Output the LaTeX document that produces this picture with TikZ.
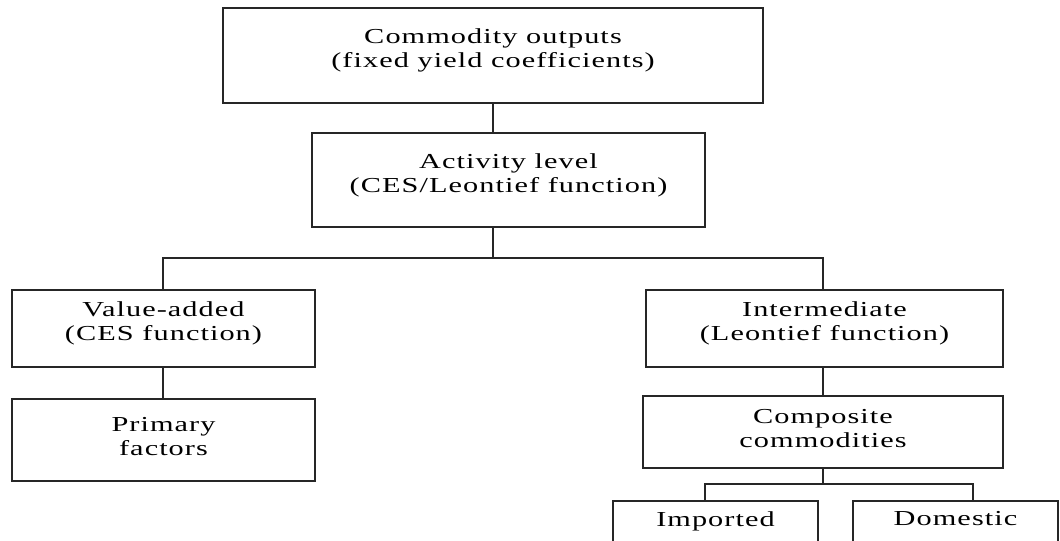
\documentclass[tikz,border=0pt]{standalone}
\usepackage{fontspec}
\setmainfont{Liberation Serif}[FakeStretch=1.42, LetterSpace=5]
\usetikzlibrary{positioning, calc}

\begin{document}
\begin{tikzpicture}[
                x=0.75pt, y=-0.75pt,
                box/.style={rectangle, draw=black!85, line width=1.4pt, fill=white, align=center, inner sep=0pt, text depth=11pt, font=\fontsize{16}{18}\selectfont},
                link/.style={draw=black!85, line width=1.2pt}
            ]%
            \useasboundingbox (0,0) rectangle (1060,540);
            %
            % Nivel superior
            \node[box, minimum width=405pt, minimum height=71.25pt] (outputs) at (493,55.5) {Commodity outputs\\(fixed yield coefficients)};
            \node[box, minimum width=294.75pt, minimum height=70.5pt] (activity) at (508.5,180) {Activity level\\(CES/Leontief function)};
            %
            % Rama izquierda
            \node[box, minimum width=227.25pt, minimum height=57.75pt] (value) at (163.5,328.5) {Value-added\\(CES function)};
            \node[box, minimum width=227.25pt, minimum height=61.5pt, text depth=6pt] (primary) at (163.5,440) {Primary\\factors};
            %
            % Rama derecha
            \node[box, minimum width=267.75pt, minimum height=57.75pt] (intermediate) at (824.5,328.5) {Intermediate\\(Leontief function)};
            \node[box, minimum width=270pt, minimum height=54pt, text depth=6pt] (composite) at (823,432) {Composite\\commodities};
            \node[box, minimum width=153.75pt, minimum height=37.5pt] (imported) at (715.5,526) {Imported};
            \node[box, minimum width=153.75pt, minimum height=37.5pt] (domestic) at (955.5,526) {Domestic};
            %
            % Puntos de union
            \coordinate (split) at (493,258);
            \coordinate (leftdrop) at (163,258);
            \coordinate (rightdrop) at (823,258);
            \coordinate (subsplit) at (823,484);
            \coordinate (impdrop) at (705,484);
            \coordinate (domdrop) at (973,484);
            %
            % Conexiones
            \draw[link] (outputs.south) -- (outputs.south |- activity.north);
            \draw[link] (activity.south -| split) -- (split);
            \draw[link] (leftdrop |- value.north) -- (leftdrop) -- (rightdrop) -- (rightdrop |- intermediate.north);
            \draw[link] (value.south -| leftdrop) -- (leftdrop |- primary.north);
            \draw[link] (intermediate.south -| rightdrop) -- (rightdrop |- composite.north);
            \draw[link] (composite.south -| subsplit) -- (subsplit);
            \draw[link] (impdrop |- imported.north) -- (impdrop) -- (domdrop) -- (domdrop |- domestic.north);
        \end{tikzpicture}
\end{document}
